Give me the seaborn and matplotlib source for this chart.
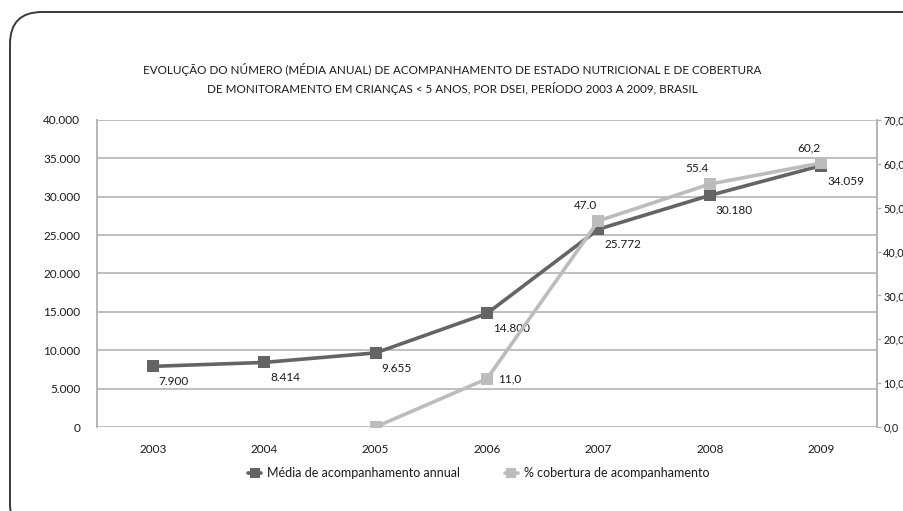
import numpy as np
import pandas as pd
import matplotlib
matplotlib.use("Agg")
import matplotlib.pyplot as plt
import seaborn as sns
from matplotlib.patches import FancyBboxPatch
from matplotlib.lines import Line2D
from matplotlib.transforms import IdentityTransform

# ---- data ----
years = [2003, 2004, 2005, 2006, 2007, 2008, 2009]
media_acomp = [7900, 8414, 9655, 14800, 25772, 30180, 34059]
media_labels = ["7.900", "8.414", "9.655", "14.800", "25.772", "30.180", "34.059"]
cobertura = [np.nan, np.nan, 0.0, 11.0, 47.0, 55.4, 60.2]
cobertura_labels = ["", "", "", "11,0", "47.0", "55.4", "60,2"]
left_ticks = [0, 5000, 10000, 15000, 20000, 25000, 30000, 35000, 40000]
left_ticklabels = ["0", "5.000", "10.000", "15.000", "20.000", "25.000", "30.000", "35.000", "40.000"]
right_ticks = [0, 10, 20, 30, 40, 50, 60, 70]
right_ticklabels = ["0,0", "10,0", "20,0", "30,0", "40,0", "50,0", "60,0", "70,0"]
title = ("EVOLUÇÃO DO NÚMERO (MÉDIA ANUAL) DE ACOMPANHAMENTO DE ESTADO NUTRICIONAL E DE COBERTURA\n"
         "DE MONITORAMENTO EM CRIANÇAS < 5 ANOS, POR DSEI, PERÍODO 2003 A 2009, BRASIL")
legend_labels = ["Média de acompanhamento annual", "% cobertura de acompanhamento"]

df = pd.DataFrame({"ano": years, "media": media_acomp, "cob": cobertura})

sns.set_theme(style="white")
plt.rcParams["font.family"] = ["Lato", "DejaVu Sans"]

DARK = "#646464"
LIGHT = "#bcbcbc"
GRID = "#b4b4b4"
TXT = "#1a1a1a"

W, H = 904, 511
fig = plt.figure(figsize=(W / 100, H / 100), dpi=100)
ax = fig.add_axes([97 / W, (H - 427) / H, 780 / W, 307 / H])
ax2 = ax.twinx()

# gridlines
for yv in left_ticks:
    ax.axhline(yv, color=GRID, lw=1.2, zorder=0)

sns.lineplot(data=df, x="ano", y="media", ax=ax, color=DARK, lw=2.6,
             marker="s", markersize=8, markeredgewidth=0, zorder=3)
sns.lineplot(data=df.dropna(), x="ano", y="cob", ax=ax2, color=LIGHT, lw=2.6,
             marker="s", markersize=8, markeredgewidth=0, zorder=3)

ax.set_xlim(2002.5, 2009.5)
ax.set_ylim(0, 40000)
ax2.set_ylim(0, 70)
ax.set_xticks(years)
ax.set_xticklabels([str(y) for y in years], fontsize=8.5, color=TXT)
ax.set_yticks(left_ticks)
ax.set_yticklabels(left_ticklabels, fontsize=8.5, color=TXT)
ax2.set_yticks(right_ticks)
ax2.set_yticklabels(right_ticklabels, fontsize=7.8, color=TXT)
ax.set_xlabel("")
ax.set_ylabel("")
ax2.set_ylabel("")
ax.tick_params(axis="x", length=0, pad=12)
ax.tick_params(axis="y", length=0, pad=12)
ax2.tick_params(axis="y", length=3, width=1, color=GRID, pad=1.5, direction="out")

for a in (ax, ax2):
    for s in ("top", "bottom"):
        a.spines[s].set_visible(False)
    a.spines["left"].set_color(GRID)
    a.spines["right"].set_color(GRID)
    a.spines["left"].set_linewidth(1.2)
    a.spines["right"].set_linewidth(1.2)
ax2.patch.set_visible(False)

# data labels
for x, v, lab in zip(years, media_acomp, media_labels):
    ax.annotate(lab, (x, v), xytext=(6, -10), textcoords="offset pixels",
                ha="left", va="top", fontsize=8.5, color=TXT, zorder=5)
first = True
for x, v, lab in zip(years, cobertura, cobertura_labels):
    if not lab:
        continue
    if first:
        ax2.annotate(lab, (x, v), xytext=(11, 0), textcoords="offset pixels",
                     ha="left", va="center", fontsize=8.5, color=TXT, zorder=5)
        first = False
    else:
        ax2.annotate(lab, (x, v), xytext=(-1, 10), textcoords="offset pixels",
                     ha="right", va="bottom", fontsize=8.5, color=TXT, zorder=5)

# title
fig.text(452 / W, 1 - 79 / H, title, ha="center", va="center", fontsize=8.4,
         color=TXT, linespacing=1.55)

# legend
handles = [Line2D([], [], color=DARK, lw=2.6, marker="s", markersize=7, markeredgewidth=0),
           Line2D([], [], color=LIGHT, lw=2.6, marker="s", markersize=7, markeredgewidth=0)]
fig.legend(handles, legend_labels, loc="center", bbox_to_anchor=(479 / W, 1 - 473 / H),
           ncol=2, frameon=False, fontsize=9, handlelength=1.0, columnspacing=3.6,
           handletextpad=0.5, labelcolor=TXT)

# rounded frame
frame = FancyBboxPatch((10, -25), 925, 511 - 12 + 25, boxstyle="round,pad=0,rounding_size=32",
                       transform=IdentityTransform(), fill=False, ec="#3a3a3a", lw=1.4,
                       clip_on=False)
fig.patches.append(frame)

fig.savefig("out.png", dpi=100)
